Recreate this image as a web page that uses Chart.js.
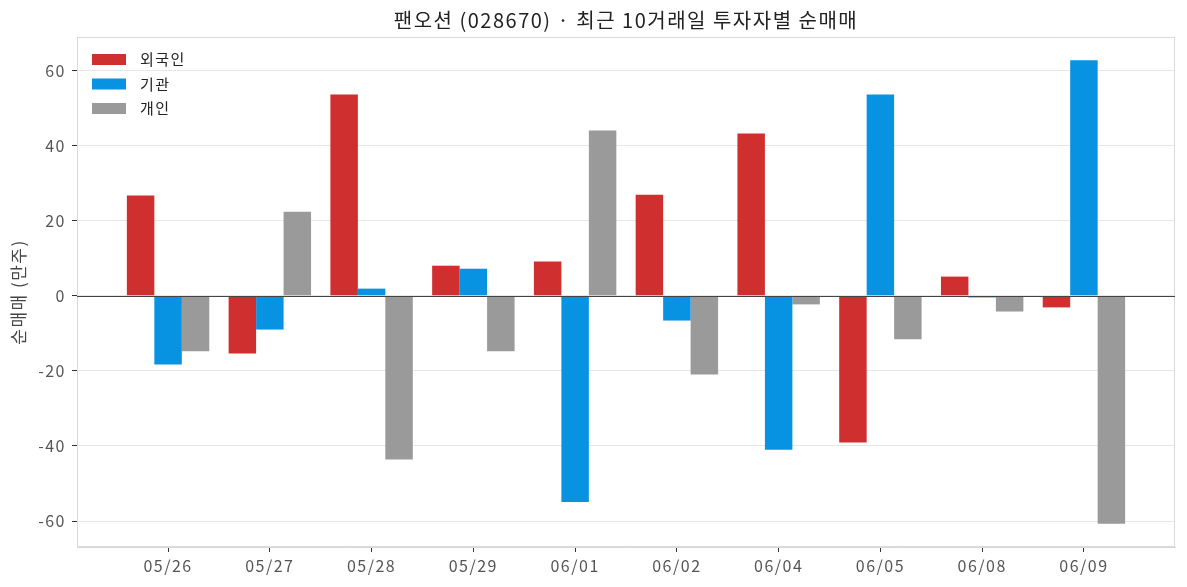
<!DOCTYPE html>
<html>
<head>
<meta charset="utf-8">
<script src="https://cdn.jsdelivr.net/npm/chart.js@4.4.1/dist/chart.umd.min.js"></script>
<style>
    body { margin: 0; background: #ffffff; }
    #wrap { width: 1187px; height: 587px; }
</style>
</head>
<body>
<div id="wrap"><canvas id="flow-chart"></canvas></div>
<script>
const dates = ["05/26", "05/27", "05/28", "05/29", "06/01", "06/02", "06/04", "06/05", "06/08", "06/09"];
const foreign = [26.7, -15.4, 53.6, 8.0, 9.1, 26.9, 43.2, -39.1, 5.1, -3.1];
const institution = [-18.3, -9.0, 1.9, 7.2, -54.9, -6.6, -41.0, 53.6, -0.45, 62.7];
const individual = [-14.8, 22.4, -43.6, -14.8, 44.0, -21.0, -2.3, -11.6, -4.2, -60.7];
const seriesNames = ["외국인", "기관", "개인"];
const yTicks = [-60, -40, -20, 0, 20, 40, 60];

const FONT = "'Noto Sans CJK KR', 'Noto Sans', sans-serif";
const colors = ["#d02f2f", "#0893e2", "#9a9a9a"];

function toPoints(values) {
    return values.map((v, i) => ({ x: i, y: v }));
}

// frame, zero line and legend drawn by hand, like the matplotlib original
const framePlugin = {
    id: "frame",
    beforeDraw(chart) {
        chart.ctx.letterSpacing = "1.5px";
    },
    afterDatasetsDraw(chart) {
        const { ctx, chartArea: a, scales } = chart;
        ctx.save();
        ctx.strokeStyle = "#d9d9d9";
        ctx.lineWidth = 1;
        ctx.strokeRect(a.left + 0.5, a.top + 0.5, a.right - a.left - 1, a.bottom - a.top - 1);

        const y0 = Math.round(scales.y.getPixelForValue(0)) + 0.5;
        ctx.strokeStyle = "#444444";
        ctx.lineWidth = 1.2;
        ctx.beginPath();
        ctx.moveTo(a.left, y0);
        ctx.lineTo(a.right, y0);
        ctx.stroke();

        ctx.font = "15px " + FONT;
        ctx.textBaseline = "middle";
        ctx.textAlign = "left";
        chart.data.datasets.forEach((ds, i) => {
            let cy = a.top + 22.5 + i * 24.5;
            ctx.fillStyle = ds.backgroundColor;
            ctx.fillRect(a.left + 15, cy - 5.5, 34, 11);
            ctx.fillStyle = "#222222";
            ctx.fillText(ds.label, a.left + 63, cy);
        });
        ctx.restore();
    }
};

const ctx = document.getElementById("flow-chart").getContext("2d");

new Chart(ctx, {
    type: "bar",
    data: {
        datasets: [foreign, institution, individual].map((vals, i) => ({
            label: seriesNames[i],
            data: toPoints(vals),
            backgroundColor: colors[i],
            borderWidth: 0,
            categoryPercentage: 0.81,
            barPercentage: 1.0
        }))
    },
    options: {
        responsive: true,
        maintainAspectRatio: false,
        animation: false,
        layout: { padding: { left: 0, right: 12, top: 0, bottom: 0 } },
        plugins: {
            legend: { display: false },
            tooltip: { enabled: false },
            title: {
                display: true,
                fullSize: false,
                text: "팬오션 (028670) · 최근 10거래일 투자자별 순매매",
                color: "#222222",
                font: { family: FONT, size: 20, weight: "normal" },
                padding: { top: 8, bottom: 5 }
            }
        },
        scales: {
            x: {
                type: "linear",
                offset: false,
                min: -0.895,
                max: 9.895,
                afterFit: (scale) => { scale.height = 40; },
                afterBuildTicks: (scale) => { scale.ticks = dates.map((_, i) => ({ value: i })); },
                ticks: {
                    callback: (v) => dates[v],
                    color: "#555555",
                    font: { family: FONT, size: 16 },
                    padding: 4,
                    maxRotation: 0,
                    autoSkip: false
                },
                grid: { offset: false, drawOnChartArea: false, tickLength: 5, tickColor: "#333333" },
                border: { color: "#d9d9d9" }
            },
            y: {
                min: -66.9,
                max: 68.9,
                afterFit: (scale) => { scale.width = 77; },
                afterBuildTicks: (scale) => { scale.ticks = yTicks.map(v => ({ value: v })); },
                ticks: {
                    color: "#555555",
                    font: { family: FONT, size: 16 },
                    padding: 6
                },
                grid: { color: "#e6e6e6", tickLength: 5, tickColor: "#333333" },
                border: { color: "#d9d9d9" },
                title: {
                    display: true,
                    text: "순매매 (만주)",
                    color: "#444444",
                    font: { family: FONT, size: 17 },
                    padding: { top: 8, bottom: 0 }
                }
            }
        }
    },
    plugins: [framePlugin]
});
</script>
</body>
</html>
